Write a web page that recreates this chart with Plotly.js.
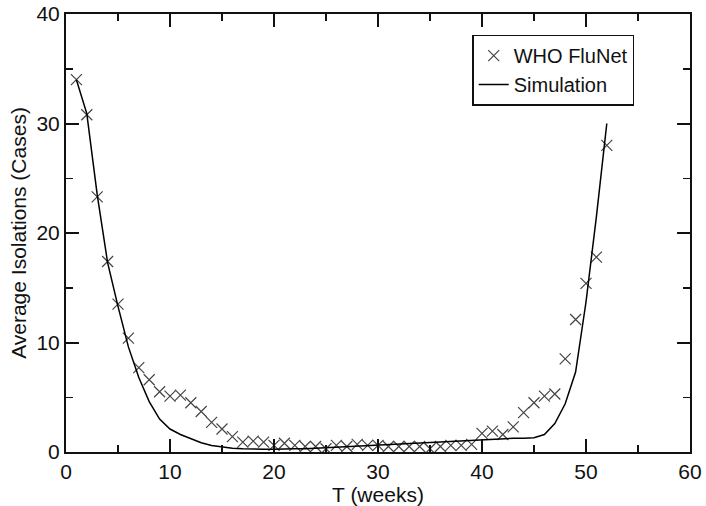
<!DOCTYPE html>
<html>
<head>
<meta charset="utf-8">
<script src="https://cdn.plot.ly/plotly-3.0.1.min.js"></script>
<style>html,body{margin:0;padding:0;background:#fff;}#chart{width:706px;height:506px;}</style>
</head>
<body>
<div id="chart"></div>
<script>
const weeks = [1,2,3,4,5,6,7,8,9,10,11,12,13,14,15,16,17,18,19,20,21,22,23,24,25,26,27,28,29,30,31,32,33,34,35,36,37,38,39,40,41,42,43,44,45,46,47,48,49,50,51,52];
const fluNet = [34.0,30.8,23.3,17.4,13.5,10.4,7.7,6.6,5.5,5.1,5.2,4.5,3.7,2.7,2.1,1.4,0.9,1.0,0.9,0.6,0.8,0.6,0.5,0.5,0.3,0.6,0.5,0.7,0.6,0.6,0.5,0.5,0.5,0.5,0.3,0.5,0.6,0.6,0.7,1.7,1.9,1.6,2.3,3.6,4.5,5.1,5.3,8.5,12.1,15.4,17.8,28.0];
const simulation = [34.0,30.9,23.5,17.3,13.3,9.6,6.8,4.6,3.0,2.1,1.6,1.2,0.85,0.6,0.45,0.35,0.3,0.25,0.25,0.25,0.3,0.3,0.3,0.35,0.4,0.45,0.5,0.55,0.6,0.65,0.7,0.75,0.8,0.85,0.85,0.9,0.95,1.0,1.05,1.1,1.15,1.2,1.25,1.25,1.3,1.6,2.6,4.4,7.3,13.7,21.5,30.0];
const seriesNames = ["WHO FluNet","Simulation"];
const xTitle = "T (weeks)";
const yTitle = "Average Isolations (Cases)";

const font = {family: "Liberation Sans, Arial, sans-serif", size: 21, color: "#111"};
const axisCommon = {
  showgrid: false, zeroline: false, showline: true, linecolor: "#111", linewidth: 2,
  mirror: "allticks", ticks: "inside", ticklen: 13, tickwidth: 2, tickcolor: "#111",
  dtick: 10, tick0: 0,
  minor: {ticks: "inside", ticklen: 7, tickwidth: 1.5, tickcolor: "#111", dtick: 5, showgrid: false},
  tickfont: font, automargin: false
};

const traces = [
  {x: weeks, y: fluNet, name: seriesNames[0], type: "scatter", mode: "markers",
   marker: {symbol: "x-thin-open", size: 11, color: "#444", line: {width: 1.2, color: "#444"}}},
  {x: weeks, y: simulation, name: seriesNames[1], type: "scatter", mode: "lines",
   line: {color: "#000", width: 1.5}}
];

const layout = {
  width: 706, height: 506,
  margin: {l: 66, r: 16, t: 14, b: 54},
  paper_bgcolor: "#fff", plot_bgcolor: "#fff",
  font: font,
  showlegend: true,
  legend: {x: 0.651, y: 0.872, xanchor: "left", yanchor: "middle", bgcolor: "#fff",
           bordercolor: "#111", borderwidth: 1.5, font: Object.assign({}, font, {size: 20}),
           tracegroupgap: 0, itemwidth: 30},
  xaxis: Object.assign({}, axisCommon, {range: [0, 60], title: {text: xTitle, font: font, standoff: 0}}),
  yaxis: Object.assign({}, axisCommon, {range: [0, 40], title: {text: yTitle, font: font, standoff: 4}})
};

Plotly.newPlot("chart", traces, layout, {staticPlot: true, displayModeBar: false});
</script>
</body>
</html>
